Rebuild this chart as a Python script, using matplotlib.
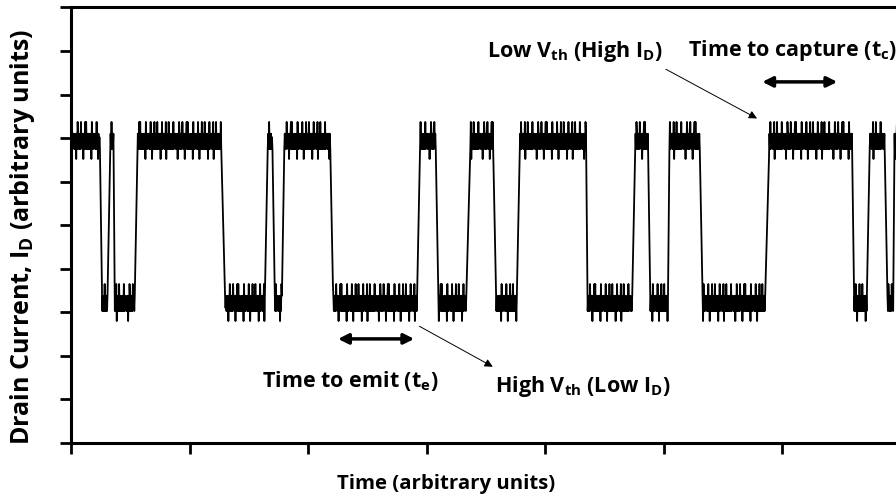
import matplotlib
matplotlib.use("Agg")
import matplotlib.pyplot as plt
import numpy as np

plt.rcParams['font.family'] = ['Open Sans', 'DejaVu Sans']
plt.rcParams['mathtext.fontset'] = 'custom'
plt.rcParams['mathtext.rm'] = 'Open Sans'
plt.rcParams['mathtext.bf'] = 'Open Sans:bold'

# plateaus of the telegraph signal: start, end (time units, one tick = 1), state
starts = [0.00, 0.26, 0.33, 0.37, 0.56, 1.30, 1.66, 1.72, 1.80, 2.21, 2.95, 3.10,
          3.37, 3.59, 3.79, 4.36, 4.76, 4.89, 5.05, 5.33, 5.89, 6.61, 6.74, 6.89, 6.95]
ends = [0.245, 0.31, 0.36, 0.54, 1.27, 1.64, 1.70, 1.78, 2.19, 2.92, 3.08, 3.34,
        3.56, 3.76, 4.35, 4.74, 4.87, 5.04, 5.31, 5.86, 6.59, 6.72, 6.87, 6.94, 7.05]
states = ['H', 'L', 'H', 'L', 'H', 'L', 'H', 'L', 'H', 'L', 'H', 'L',
          'H', 'L', 'H', 'L', 'H', 'L', 'H', 'L', 'H', 'L', 'H', 'L', 'H']
level_high = 6.92
level_low = 3.2

# noise texture riding on each level, estimated from the band shapes
noise = [0.18, -0.17, 0.45, -0.17, 0.18, -0.1, 0.18, -0.17, 0.1, -0.17,
         0.18, -0.4, 0.18, -0.17, 0.45, 0.18, -0.17, 0.18, -0.17, 0.18,
         -0.17, 0.45, -0.1, 0.18, -0.17, 0.18, -0.4, 0.18, -0.17, 0.18,
         0.45, -0.17, 0.45, -0.17, 0.18, -0.17, 0.1, -0.17, 0.18, -0.17,
         0.18, -0.17, 0.18, -0.4, 0.45, -0.17, 0.18, -0.17, 0.18, -0.1,
         0.18, -0.17, 0.18, -0.17, 0.45, -0.17, 0.18, -0.4, 0.18, -0.17,
         0.1, -0.17, 0.45, -0.17, 0.18, -0.17, 0.18, -0.17, 0.45, -0.17,
         0.18, -0.17, 0.18, -0.17, 0.18, -0.4, 0.18, -0.17, 0.45, -0.17,
         0.18, -0.1, 0.18, -0.17, 0.18, -0.17, 0.45, -0.4, 0.18, -0.17,
         0.18, -0.17, 0.45, -0.17, 0.18, -0.17, 0.18, -0.17, 0.1, -0.17]
dt = 0.004

t_all = []
v_all = []
k = 0
for s, e, st in zip(starts, ends, states):
    lev = level_high if st == 'H' else level_low
    for t in np.arange(s, e, dt):
        t_all.append(t)
        v_all.append(lev + noise[k % len(noise)])
        k += 1

fig = plt.figure(figsize=(8.96, 5.0), dpi=100)
ax = fig.add_axes([71 / 896, 1 - 443 / 500, 7 * 118.5 / 896, 435.6 / 500])

ax.plot(t_all, v_all, color='black', lw=1.3)

ax.set_xlim(0, 7)
ax.set_ylim(0, 10)
ax.set_xticks(range(0, 8))
ax.set_yticks(range(0, 11))
ax.set_xticklabels([])
ax.set_yticklabels([])
ax.tick_params(direction='out', length=8, width=2, color='black')
for side in ['left', 'bottom', 'top']:
    ax.spines[side].set_linewidth(2.2)
ax.spines['right'].set_visible(False)

ax.set_xlabel('Time (arbitrary units)', fontsize=14.7, fontweight='bold', va='center')
ax.xaxis.set_label_coords(0.452, -0.094)
ax.set_ylabel(r'Drain Current, I$_\mathbf{D}$ (arbitrary units)', fontsize=18,
              fontweight='bold', va='center')
ax.yaxis.set_label_coords(-0.059, 0.472)

txt = dict(fontsize=15.5, fontweight='bold', va='center', ha='left')
ax.text(3.51, 8.98, r'Low V$_\mathbf{th}$ (High I$_\mathbf{D}$)', **txt)
ax.text(5.21, 9.02, r'Time to capture (t$_\mathbf{c}$)', **txt)
ax.text(1.61, 1.42, r'Time to emit (t$_\mathbf{e}$)', **txt)
ax.text(3.58, 1.29, r'High V$_\mathbf{th}$ (Low I$_\mathbf{D}$)', **txt)

ax.annotate('', xy=(6.49, 8.29), xytext=(5.81, 8.29),
            arrowprops=dict(arrowstyle='<|-|>', lw=2.5, color='black', mutation_scale=15))
ax.annotate('', xy=(2.92, 2.39), xytext=(2.23, 2.39),
            arrowprops=dict(arrowstyle='<|-|>', lw=2.5, color='black', mutation_scale=15))
ax.annotate('', xy=(5.81, 7.42), xytext=(5.00, 8.61),
            arrowprops=dict(arrowstyle='-|>', lw=0.7, color='black', mutation_scale=12))
ax.annotate('', xy=(3.58, 1.72), xytext=(2.92, 2.71),
            arrowprops=dict(arrowstyle='-|>', lw=0.7, color='black', mutation_scale=12))

fig.savefig('out.png', dpi=100)
